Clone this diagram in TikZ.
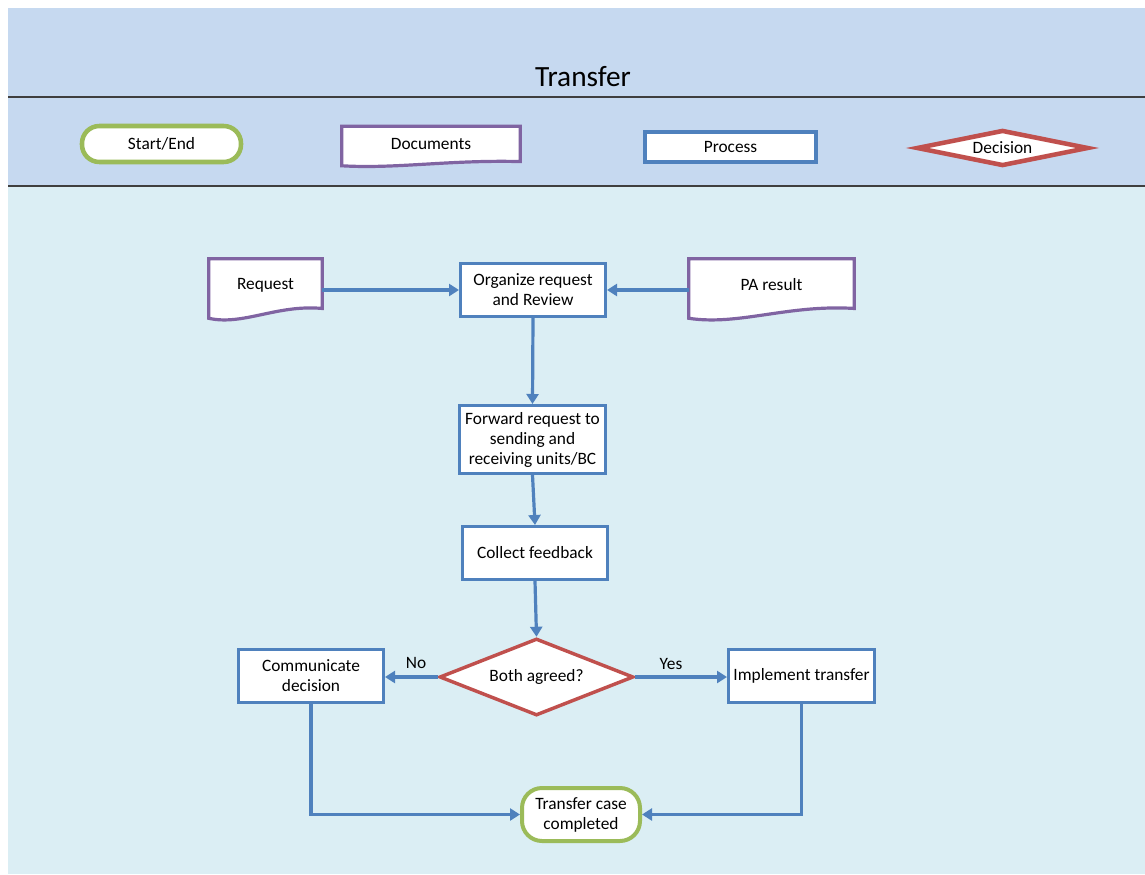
\documentclass[tikz,border=0pt]{standalone}
\usepackage{fontspec}
\setmainfont{Carlito}
\usetikzlibrary{shapes.geometric,arrows.meta,calc}

\definecolor{hdr}{HTML}{C6D9F0}
\definecolor{bodybg}{HTML}{DBEEF4}
\definecolor{procblue}{HTML}{4F81BD}
\definecolor{decred}{HTML}{C0504D}
\definecolor{docpurple}{HTML}{8064A2}
\definecolor{termgreen}{HTML}{9BBB59}
\definecolor{rulegray}{HTML}{3F3F3F}

\pgfdeclarelayer{back}
\pgfdeclarelayer{mid}
\pgfsetlayers{back,mid,main}

\tikzset{
  every node/.style={font=\fontsize{13}{15}\selectfont, text=black},
  size/.style 2 args={minimum width=#1*0.75pt, minimum height=#2*0.75pt},
  procbox/.style={draw=procblue, fill=white, line width=2.25pt, inner sep=1pt, align=center},
  termbox/.style={draw=termgreen, fill=white, line width=3pt, rounded corners=13pt, inner sep=1pt, align=center},
  decbox/.style={diamond, draw=decred, fill=white, line width=2.6pt, inner sep=0pt, aspect=2.5},
  docnode/.style={inner sep=1pt, align=center},
  docline/.style={draw=docpurple, fill=white, line width=2.4pt, line join=miter},
  flow/.style={draw=procblue, line width=2.4pt, -{Triangle[length=7.5pt,width=9pt]}},
  tag/.style={inner sep=0pt},
  bandrule/.style={draw=rulegray, line width=1.5pt},
}

% document symbol: box with a wavy lower edge, drawn around a named node
\newcommand\docoutline[2]{%
  \path[docline] ($(#1.south west)+(0,#2)$) -- (#1.north west) -- (#1.north east)
    -- ($(#1.south east)+(0,{-0.4*#2})$)
    .. controls ($(#1.south west)!0.6!(#1.south east)+(0,{-1.0*#2})$)
       and ($(#1.south west)!0.3!(#1.south east)+(0,{2.1*#2})$)
    .. ($(#1.south west)+(0,#2)$) -- cycle;}

\begin{document}
\begin{tikzpicture}[x=0.75pt, y=-0.75pt]
\useasboundingbox (0,0) rectangle (1145,874);

% page bands
\begin{pgfonlayer}{back}
  \fill[white] (0,0) rectangle (1145,874);
  \fill[hdr] (8,8) rectangle (1145,187);
  \fill[bodybg] (8,187) rectangle (1145,874);
  \draw[bandrule] (8,97) -- (1145,97);
  \draw[bandrule] (8,186) -- (1145,186);
\end{pgfonlayer}

\node[font=\fontsize{22}{26}\selectfont] (title) at (583,77) {Transfer};

% legend
\node[termbox, size={159}{36}, line width=3.4pt] (lgterm) at (161.5,144) {Start/End};
\node[docnode, size={178}{36}] (lgdoc) at (431,144.5) {Documents};
\node[procbox, size={171}{30}, line width=3pt] (lgproc) at (730.5,147) {Process};
\node[decbox, size={172}{36}, line width=3.4pt] (lgdec) at (1002.5,148) {Decision};

% flow chart
\node[docnode, size={113}{52}] (req) at (265.5,285) {Request};
\node[procbox, size={145}{53}] (org) at (533,290) {Organize request\\and Review};
\node[docnode, size={165}{52}] (pa) at (771.5,285) {PA result};
\node[procbox, size={146}{68}] (fwd) at (532.5,439.5) {Forward request to\\sending and\\receiving units/BC};
\node[procbox, size={145}{53}] (col) at (535,553) {Collect feedback};
\node[decbox, size={194}{77}] (dec) at (536.5,677) {Both agreed?};
\node[procbox, size={145}{53}] (com) at (311,676) {Communicate\\decision};
\node[procbox, size={146}{53}] (imp) at (801.5,676) {Implement transfer};
\node[termbox, size={118}{53}, rounded corners=15pt] (fin) at (581,814.5) {Transfer case\\completed};

\node[tag] (no) at (416,663) {No};
\node[tag] (yes) at (671,664) {Yes};

\begin{pgfonlayer}{mid}
  \docoutline{lgdoc}{3}
  \docoutline{req}{7}
  \docoutline{pa}{7}
\end{pgfonlayer}

% connectors
\draw[flow] (req.east |- org.west) -- (org.west);
\draw[flow] (pa.west |- org.east) -- (org.east);
\draw[flow] (org.south) -- (fwd.north);
\draw[flow] (fwd.south) -- (col.north);
\draw[flow] (col.south) -- (dec.north);
\draw[flow] (dec.west) -- (com.east |- dec.west);
\draw[flow] (dec.east) -- (imp.west |- dec.east);
\draw[flow] (com.south) |- (fin.west);
\draw[flow] (imp.south) |- (fin.east);
\end{tikzpicture}
\end{document}
